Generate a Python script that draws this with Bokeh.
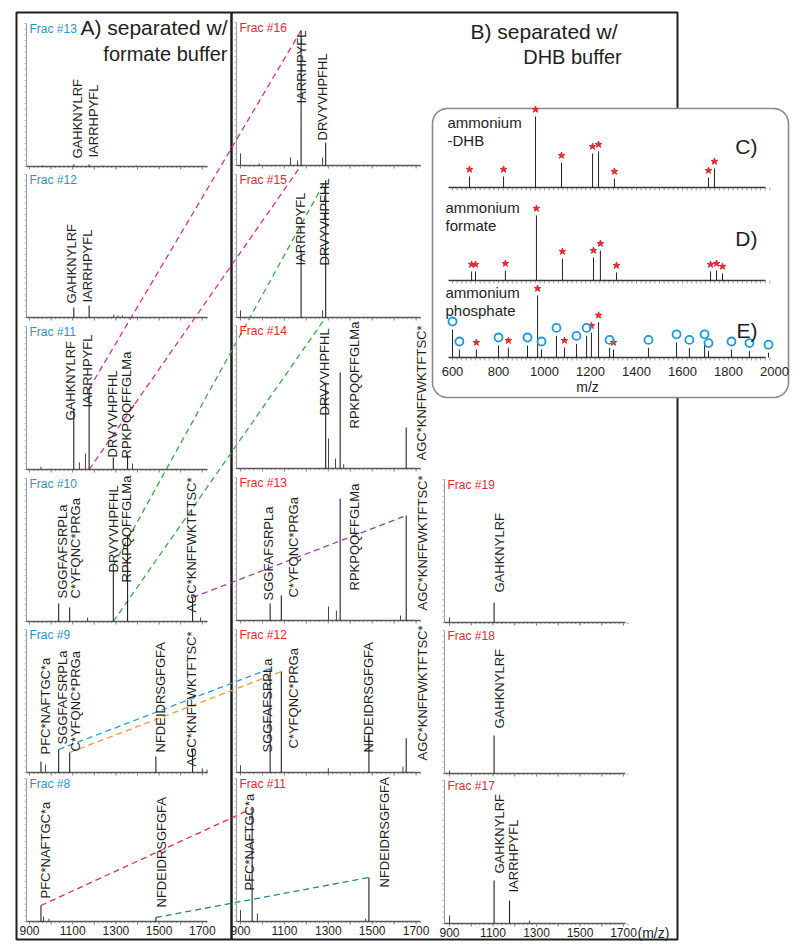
import numpy as np
from bokeh.plotting import figure
from bokeh.models import Range1d
from bokeh.core.properties import value
from bokeh.embed import file_html
from bokeh.resources import INLINE

# ============================ DATA ============================
pep_names = ["PFC*NAFTGC*a", "SGGFAFSRPLa", "C*YFQNC*PRGa", "GAHKNYLRF",
             "IARRHPYFL", "DRVYVHPFHL", "RPKPQQFFGLMa", "NFDEIDRSGFGFA",
             "AGC*KNFFWKTFTSC*"]
pep_mz = [953, 1035, 1086, 1105, 1176, 1288, 1354, 1485, 1655]
mz_ticks = [900, 1100, 1300, 1500, 1700]

# A) separated with formate buffer  (intensity in % of panel height)
A13_pep = ["GAHKNYLRF", "IARRHPYFL"]; A13_int = [1.4, 1.4]
A13_mz2 = [962, 1240, 1395]; A13_int2 = [0.8, 0.7, 0.6]
A12_pep = ["GAHKNYLRF", "IARRHPYFL"]; A12_int = [7.0, 8.4]
A12_mz2 = [1290, 1310, 1330]; A12_int2 = [2.0, 1.4, 1.4]
A11_pep = ["GAHKNYLRF", "IARRHPYFL", "DRVYVHPFHL", "RPKPQQFFGLMa"]; A11_int = [42.7, 56.6, 8.4, 10.5]
A11_mz2 = [953, 1131, 1159, 1377]; A11_int2 = [2.0, 5.0, 11.2, 4.2]
A10_pep = ["SGGFAFSRPLa", "C*YFQNC*PRGa", "DRVYVHPFHL", "RPKPQQFFGLMa", "AGC*KNFFWKTFTSC*"]
A10_int = [12.6, 9.8, 39.2, 60.1, 16.8]
A10_mz2 = [1169, 1692]; A10_int2 = [2.8, 2.8]
A9_pep = ["PFC*NAFTGC*a", "SGGFAFSRPLa", "C*YFQNC*PRGa", "NFDEIDRSGFGFA", "AGC*KNFFWKTFTSC*"]
A9_int = [7.7, 16.1, 14.0, 11.2, 16.1]
A9_mz2 = [974, 1700, 1722]; A9_int2 = [5.6, 3.0, 2.0]
A8_pep = ["PFC*NAFTGC*a", "NFDEIDRSGFGFA"]; A8_int = [11.2, 2.8]
A8_mz2 = [965, 990]; A8_int2 = [3.5, 2.0]

# B) separated with DHB buffer
B16_pep = ["IARRHPYFL", "DRVYVHPFHL"]; B16_int = [94.4, 16.1]
B16_mz2 = [900, 985, 1128, 1160, 1274]; B16_int2 = [8.4, 1.5, 5.6, 3.5, 5.6]
B15_pep = ["IARRHPYFL", "DRVYVHPFHL"]; B15_int = [47.0, 96.0]
B15_mz2 = [900, 1274]; B15_int2 = [5.0, 5.0]
B14_pep = ["DRVYVHPFHL", "RPKPQQFFGLMa", "AGC*KNFFWKTFTSC*"]; B14_int = [60.1, 67.1, 28.7]
B14_mz2 = [1301, 1333, 1370]; B14_int2 = [21.0, 7.0, 3.0]
B13_pep = ["SGGFAFSRPLa", "C*YFQNC*PRGa", "RPKPQQFFGLMa", "AGC*KNFFWKTFTSC*"]; B13_int = [11.9, 17.5, 85.3, 73.4]
B13_mz2 = [1301, 1337, 1629]; B13_int2 = [9.8, 7.0, 3.5]
B12_pep = ["SGGFAFSRPLa", "C*YFQNC*PRGa", "NFDEIDRSGFGFA", "AGC*KNFFWKTFTSC*"]; B12_int = [72.7, 70.6, 28.0, 24.0]
B12_mz2 = [900, 1300, 1640]; B12_int2 = [5.0, 3.0, 4.0]
B11_pep = ["PFC*NAFTGC*a", "NFDEIDRSGFGFA"]; B11_int = [79.0, 30.8]
B11_mz2 = [900, 977, 1470]; B11_int2 = [8.0, 5.6, 2.0]

C19_pep = ["GAHKNYLRF"]; C19_int = [14.0]; C19_mz2 = [900]; C19_int2 = [3.5]
C18_pep = ["GAHKNYLRF"]; C18_int = [26.6]; C18_mz2 = [900]; C18_int2 = [2.0]
C17_pep = ["GAHKNYLRF", "IARRHPYFL"]; C17_int = [30.0, 16.1]; C17_mz2 = [900, 1268]; C17_int2 = [5.6, 2.0]

frac_names = {"A13": "Frac #13", "A12": "Frac #12", "A11": "Frac #11", "A10": "Frac #10",
              "A9": "Frac #9", "A8": "Frac #8", "B16": "Frac #16", "B15": "Frac #15",
              "B14": "Frac #14", "B13": "Frac #13", "B12": "Frac #12", "B11": "Frac #11",
              "C19": "Frac #19", "C18": "Frac #18", "C17": "Frac #17"}

# inset spectra (m/z, % height)
C_mz = [674, 822, 961, 1074, 1209, 1235, 1304, 1713, 1739]
C_int = [13.8, 13.8, 88.8, 31.3, 42.5, 45.0, 11.3, 12.5, 23.8]
D_mz = [683, 700, 830, 965, 1078, 1213, 1243, 1313, 1722, 1748, 1774]
D_int = [11.3, 11.3, 12.5, 81.3, 27.5, 28.8, 37.5, 10.0, 11.3, 12.5, 8.8]
E_star_mz = [704, 843, 970, 1087, 1204, 1235, 1300]
E_star_int = [10.0, 12.5, 77.5, 12.5, 31.0, 44.0, 10.0]
E_circ_mz = [600, 630, 800, 926, 987, 1052, 1139, 1183, 1283, 1452, 1574, 1630, 1696, 1713, 1813, 1891, 1974]
E_circ_int = [35.0, 10.0, 15.0, 15.0, 10.0, 27.0, 17.0, 27.0, 12.0, 12.0, 19.0, 12.0, 19.0, 8.0, 10.0, 8.0, 6.0]
inset_ticks = [600, 800, 1000, 1200, 1400, 1600, 1800, 2000]

# ============================ LAYOUT ============================
FONT = "Liberation Sans"
W, H = 800, 945
OX, OY = 0, 0
PANEL_H = 143.0
SY = PANEL_H / 100.0
COLGEO = {"A": (29.0, 0.216, 26.0, 207.0),
          "B": (240.0, 0.2195, 236.0, 420.0),
          "C": (449.0, 0.2175, 444.0, 625.0)}
BASES = {"A13": 166, "A12": 317, "A11": 469, "A10": 621, "A9": 772, "A8": 921,
         "B16": 165, "B15": 317, "B14": 468, "B13": 620, "B12": 772, "B11": 921,
         "C19": 622, "C18": 773, "C17": 923}
# label placement: (dx px from peak to text right edge, bottom px above baseline)
LBL = {"A13": [(4, 8), (4, 9)], "A12": [(-2, 14), (-2, 15)],
       "A11": [(-3, 49), (-2, 62), (-1, 12), (-1, 11)],
       "A10": [(4, 23), (6, 23), (0, 49), (-1, 39), (-1, 9)],
       "A9": [(5, 18), (4, 28), (6, 21), (5, 20), (-1, 6)],
       "A8": [(5, 23), (6, 14)],
       "B16": [(0, 62), (-3, 25)], "B15": [(-1, 52), (-1, 52)],
       "B14": [(-1, 53), (14, 40), (15, 8)],
       "B13": [(-2, 20), (12, 23), (14, 30), (16, 10)],
       "B12": [(-3, 20), (12, 24), (0, 20), (16, 12)],
       "B11": [(-3, 31), (16, 34)],
       "C19": [(5, 30)], "C18": [(5, 45)], "C17": [(5, 50), (4, 31)]}

INSET = dict(left=432, right=788, top=108, bottom=397, r=15)
I_X600, I_K, I_LEFT, I_RIGHT = 452.0, 0.23, 448.0, 765.0
I_SY = 0.8
I_BASES = {"iC": 187, "iD": 280, "iE": 357}

SPEC = {"A13": (A13_pep, A13_int, A13_mz2, A13_int2), "A12": (A12_pep, A12_int, A12_mz2, A12_int2),
        "A11": (A11_pep, A11_int, A11_mz2, A11_int2), "A10": (A10_pep, A10_int, A10_mz2, A10_int2),
        "A9": (A9_pep, A9_int, A9_mz2, A9_int2), "A8": (A8_pep, A8_int, A8_mz2, A8_int2),
        "B16": (B16_pep, B16_int, B16_mz2, B16_int2), "B15": (B15_pep, B15_int, B15_mz2, B15_int2),
        "B14": (B14_pep, B14_int, B14_mz2, B14_int2), "B13": (B13_pep, B13_int, B13_mz2, B13_int2),
        "B12": (B12_pep, B12_int, B12_mz2, B12_int2), "B11": (B11_pep, B11_int, B11_mz2, B11_int2),
        "C19": (C19_pep, C19_int, C19_mz2, C19_int2), "C18": (C18_pep, C18_int, C18_mz2, C18_int2),
        "C17": (C17_pep, C17_int, C17_mz2, C17_int2)}
MZ = dict(zip(pep_names, pep_mz))

TEAL = "#2a93c6"; RED = "#e8262e"; INK = "#1e1e1e"

p = figure(width=W, height=H, output_backend="svg", toolbar_location=None,
           x_range=Range1d(OX, OX + W), y_range=Range1d(OY + H, OY),
           x_axis_location=None, y_axis_location=None, min_border=0)
p.grid.visible = False
p.outline_line_color = None

xr, yr = {}, {}
for name, base in BASES.items():
    x900, k, _, _ = COLGEO[name[0]]
    xr[name] = Range1d(900 + (OX - x900) / k, 900 + (OX + W - x900) / k)
    yr[name] = Range1d((base - (OY + H)) / SY, (base - OY) / SY)
for name, base in I_BASES.items():
    xr[name] = Range1d(600 + (OX - I_X600) / I_K, 600 + (OX + W - I_X600) / I_K)
    yr[name] = Range1d((base - (OY + H)) / I_SY, (base - OY) / I_SY)
p.extra_x_ranges = xr
p.extra_y_ranges = yr


def page_x(name, mz):
    x900, k, _, _ = COLGEO[name[0]]
    return x900 + (mz - 900) * k


def page_y(name, inten):
    return BASES[name] - inten * SY


def txt(x, y, s, size, color=INK, align="left", baseline="middle", angle=0.0, rn=None):
    kw = {}
    if rn:
        kw = dict(x_range_name=rn, y_range_name=rn)
    p.text(x=x, y=y, text=s, text_font=value(FONT), text_font_size=size,
           text_color=color, text_align=align, text_baseline=baseline, angle=angle, **kw)


# ---------------- outer frame and divider ----------------
p.quad(left=[16], right=[677], top=[12], bottom=[939], fill_color=None,
       line_color=INK, line_width=2)
p.segment(x0=[231], y0=[12], x1=[231], y1=[939], line_color=INK, line_width=2.5)

# ---------------- dashed links (drawn under spectra) ----------------
LINKS = [("#e0308f", "A11", "IARRHPYFL", "top", "B16", "IARRHPYFL", "top"),
         ("#e0308f", "A11", "IARRHPYFL", "base", "B16", "IARRHPYFL", "base"),
         ("#3aaa48", "A10", "DRVYVHPFHL", "top", "B15", "DRVYVHPFHL", "top"),
         ("#3aaa48", "A10", "DRVYVHPFHL", "base", "B15", "DRVYVHPFHL", "base"),
         ("#9b3fa5", "A10", "AGC*KNFFWKTFTSC*", "top", "B13", "AGC*KNFFWKTFTSC*", "top"),
         ("#2a9bd4", "A9", "SGGFAFSRPLa", "top", "B12", "SGGFAFSRPLa", "top"),
         ("#f29a38", "A9", "C*YFQNC*PRGa", "top", "B12", "C*YFQNC*PRGa", "top"),
         ("#e8323c", "A8", "PFC*NAFTGC*a", "top", "B11", "PFC*NAFTGC*a", "top"),
         ("#1f8a8a", "A8", "NFDEIDRSGFGFA", "top", "B11", "NFDEIDRSGFGFA", "top")]


def peak_int(name, pep):
    peps, ints = SPEC[name][0], SPEC[name][1]
    return ints[peps.index(pep)]


for col, pa, pep_a, wa, pb, pep_b, wb in LINKS:
    ia = peak_int(pa, pep_a) if wa == "top" else 0.0
    ib = peak_int(pb, pep_b) if wb == "top" else 0.0
    p.segment(x0=[page_x(pa, MZ[pep_a])], y0=[page_y(pa, ia)],
              x1=[page_x(pb, MZ[pep_b])], y1=[page_y(pb, ib)],
              line_color=col, line_width=1.3, line_dash="6 4")

# ---------------- spectra panels ----------------
for name, (peps, ints, mz2, int2) in SPEC.items():
    x900, k, left, right = COLGEO[name[0]]
    mzl = 900 + (left - x900) / k
    mzr = 900 + (right - x900) / k
    rk = dict(x_range_name=name, y_range_name=name)
    p.segment(x0=[mzl], y0=[0], x1=[mzl], y1=[100], line_color="#9a9a9a", line_width=1, **rk)
    yt = np.arange(0, 100.1, 4.0)
    p.segment(x0=np.full(len(yt), mzl), y0=yt, x1=np.full(len(yt), mzl - 2.0 / k), y1=yt,
              line_color="#b0b0b0", line_width=1, **rk)
    mt = np.arange(900, 1701, 100)
    p.segment(x0=mt, y0=np.zeros(len(mt)), x1=mt, y1=np.full(len(mt), -3.0 / SY),
              line_color="#7a7a7a", line_width=1, **rk)
    nt = np.arange(900, 1721, 20)
    p.segment(x0=nt, y0=np.zeros(len(nt)), x1=nt, y1=np.full(len(nt), -1.6 / SY),
              line_color="#9a9a9a", line_width=1, **rk)
    p.segment(x0=[mzl], y0=[0], x1=[mzr], y1=[0], line_color="#5a5a5a", line_width=1.4, **rk)
    pmz = [MZ[q] for q in peps]
    p.segment(x0=pmz, y0=np.zeros(len(pmz)), x1=pmz, y1=ints, line_color="#222222", line_width=1.1, **rk)
    p.segment(x0=mz2, y0=np.zeros(len(mz2)), x1=mz2, y1=int2, line_color="#444444", line_width=1, **rk)
    lx = [MZ[q] + d / k for q, (d, b) in zip(peps, LBL[name])]
    ly = [b / SY for (d, b) in LBL[name]]
    txt(lx, ly, peps, "13px", INK, "left", "alphabetic", np.pi / 2, rn=name)
    txt([mzl + 3.0 / k], [96.5], [frac_names[name]], "12px", TEAL if name[0] == "A" else RED, "left", "middle", rn=name)

# bottom m/z tick labels
for name in ["A8", "B11", "C17"]:
    txt(mz_ticks, [-8.5 / SY] * len(mz_ticks), [str(t) for t in mz_ticks], "12px", INK, "center", "middle", rn=name)
txt([637], [932], ["(m/z)"], "14px", INK, "left", "middle")

# ---------------- titles ----------------
txt([227], [27], ["A) separated w/"], "21px", INK, "right", "middle")
txt([227], [53], ["formate buffer"], "20px", INK, "right", "middle")
txt([470], [31], ["B) separated w/"], "21px", INK, "left", "middle")
txt([572], [56], ["DHB buffer"], "20px", INK, "center", "middle")

# ---------------- inset ----------------
L, R, T, B, r = INSET["left"], INSET["right"], INSET["top"], INSET["bottom"], INSET["r"]
xs, ys = [], []
for cx, cy, a0 in [(R - r, T + r, -90), (R - r, B - r, 0), (L + r, B - r, 90), (L + r, T + r, 180)]:
    th = np.radians(np.linspace(a0, a0 + 90, 12))
    xs += list(cx + r * np.cos(th)); ys += list(cy + r * np.sin(th))
p.patch(xs, ys, fill_color="white", line_color="#8a8a8a", line_width=1.6)

for name in ["iC", "iD", "iE"]:
    mzl = 600 + (I_LEFT - I_X600) / I_K
    mzr = 600 + (I_RIGHT - I_X600) / I_K
    nt = np.arange(600, 1981, 20)
    rk = dict(x_range_name=name, y_range_name=name)
    p.segment(x0=nt, y0=np.zeros(len(nt)), x1=nt, y1=np.full(len(nt), -3.0 / I_SY),
              line_color="#8a8a8a", line_width=0.8, **rk)
    p.segment(x0=[mzl], y0=[0], x1=[mzr], y1=[0], line_color="#3a3a3a", line_width=1.4, **rk)

p.segment(x0=C_mz, y0=np.zeros(len(C_mz)), x1=C_mz, y1=C_int, line_color="#222", line_width=1, x_range_name="iC", y_range_name="iC")
p.scatter(C_mz, np.array(C_int) + 7.0 / I_SY, marker="star", size=7, color=RED, x_range_name="iC", y_range_name="iC")
p.segment(x0=D_mz, y0=np.zeros(len(D_mz)), x1=D_mz, y1=D_int, line_color="#222", line_width=1, x_range_name="iD", y_range_name="iD")
p.scatter(D_mz, np.array(D_int) + 7.0 / I_SY, marker="star", size=7, color=RED, x_range_name="iD", y_range_name="iD")
p.segment(x0=E_star_mz, y0=np.zeros(len(E_star_mz)), x1=E_star_mz, y1=E_star_int, line_color="#222", line_width=1, x_range_name="iE", y_range_name="iE")
p.scatter(E_star_mz, np.array(E_star_int) + 7.0 / I_SY, marker="star", size=7, color=RED, x_range_name="iE", y_range_name="iE")
p.segment(x0=E_circ_mz, y0=np.zeros(len(E_circ_mz)), x1=E_circ_mz, y1=E_circ_int, line_color="#222", line_width=1, x_range_name="iE", y_range_name="iE")
p.scatter(E_circ_mz, np.array(E_circ_int) + 8.0 / I_SY, marker="circle", size=8, fill_color=None,
          line_color="#1a9ad6", line_width=1.8, x_range_name="iE", y_range_name="iE")

txt(inset_ticks, [-14.0 / I_SY] * len(inset_ticks), [str(t) for t in inset_ticks], "13px", INK, "center", "middle", rn="iE")
txt([587], [386], ["m/z"], "14px", INK, "center", "middle")

txt([447, 447], [122, 140], ["ammonium", "-DHB"], "15px", INK, "left", "middle")
txt([445, 445], [207, 225], ["ammonium", "formate"], "15px", INK, "left", "middle")
txt([445, 445], [292, 310], ["ammonium", "phosphate"], "15px", INK, "left", "middle")
txt([757, 757, 757], [146, 238, 330], ["C)", "D)", "E)"], "21px", INK, "right", "middle")

open("out.html", "w").write(file_html(p, INLINE))
